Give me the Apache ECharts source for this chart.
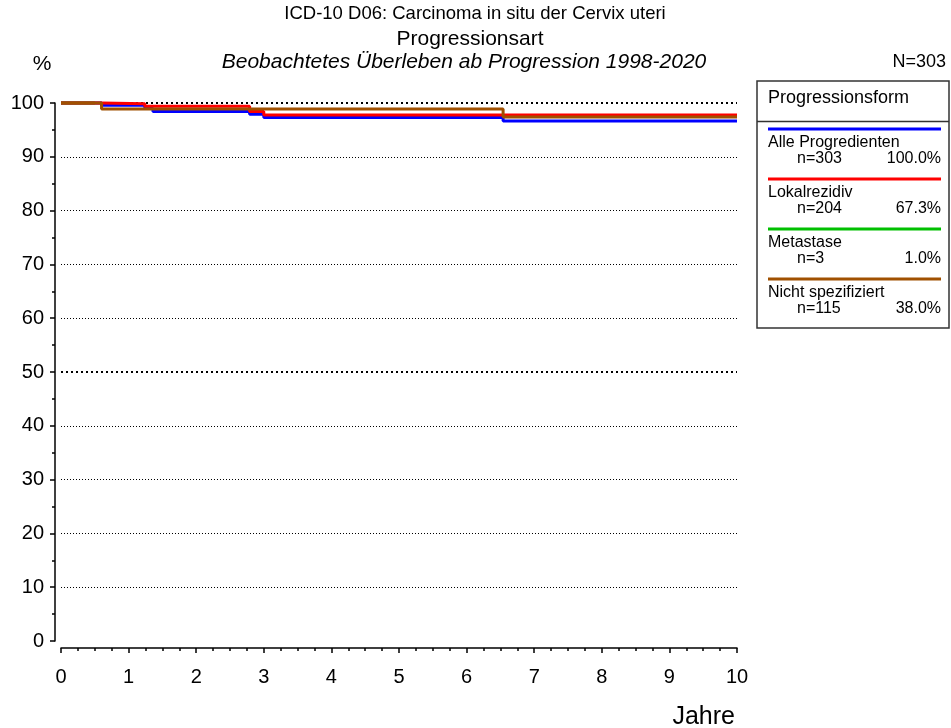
<!DOCTYPE html>
<html>
<head>
<meta charset="utf-8">
<script src="https://cdn.jsdelivr.net/npm/echarts@6/dist/echarts.min.js"></script>
<style>html,body{margin:0;padding:0;background:#fff;}#c{width:951px;height:728px;}</style>
</head>
<body>
<div id="c"></div>
<script>
// ---- data ----
var titleLines = ['ICD-10 D06: Carcinoma in situ der Cervix uteri', 'Progressionsart', 'Beobachtetes Überleben ab Progression 1998-2020'];
var totalN = 'N=303';
var xTicks = [0,1,2,3,4,5,6,7,8,9,10];
var yTicks = [0,10,20,30,40,50,60,70,80,90,100];
var gridThin = [10,20,30,40,60,70,80,90];
var gridBold = [50,100];

var legendTitle = 'Progressionsform';
var groupNames = ['Alle Progredienten','Lokalrezidiv','Metastase','Nicht spezifiziert'];
var groupN = ['n=303','n=204','n=3','n=115'];
var groupPct = ['100.0%','67.3%','1.0%','38.0%'];
var groupColors = ['#0000ff','#ff0000','#00c000','#a05000'];

var alleTimes = [0, 0.6, 1.24, 1.36, 2.79, 3.0, 6.54, 10];
var alleVals  = [100, 99.6, 99.0, 98.4, 97.9, 97.3, 96.65, 96.65];
var lokalTimes = [0, 0.6, 1.24, 2.79, 3.0, 10];
var lokalVals  = [100, 99.85, 99.4, 98.4, 97.75, 97.75];
var metaTimes = [0, 0.5];
var metaVals  = [100, 100];
var nichtTimes = [0, 0.6, 6.54, 10];
var nichtVals  = [100, 98.9, 97.4, 97.4];

function pairs(t, v){ return t.map(function(x,i){ return [x, v[i]]; }); }

var FONT = '"Liberation Sans", Arial, sans-serif';
var chart = echarts.init(document.getElementById('c'), null, {renderer:'canvas'});

var gridLeft = 61, gridTop = 103, gridW = 676, gridH = 538;

var seriesData = [
  {name: groupNames[0], d: pairs(alleTimes, alleVals), c: groupColors[0]},
  {name: groupNames[2], d: pairs(metaTimes, metaVals), c: groupColors[2]},
  {name: groupNames[1], d: pairs(lokalTimes, lokalVals), c: groupColors[1]},
  {name: groupNames[3], d: pairs(nichtTimes, nichtVals), c: groupColors[3]}
];

var series = [{
  type: 'line', data: [], silent: true, clip: false, z: 1,
  markLine: {
    silent: true, z: 1, symbol: ['none','none'], label: {show:false}, animation:false,
    data: gridThin.map(function(v){ return {yAxis: v, lineStyle:{color:'#000', width:1, type:[1,2]}}; })
      .concat(gridBold.map(function(v){ return {yAxis: v, lineStyle:{color:'#000', width:2, type:[2,3]}}; }))
  }
}];
seriesData.forEach(function(s, i){
  series.push({
    type: 'line', name: s.name, data: s.d, step: 'end', showSymbol: false, symbol: 'none',
    clip: false, z: 3 + i, lineStyle: {color: s.c, width: 3}, itemStyle:{color:s.c}
  });
});

var graphics = [];
var titleCfg = [
  {x: 475, y: 14, size: 18.5, style: 'normal'},
  {x: 470, y: 39, size: 21, style: 'normal'},
  {x: 464, y: 62, size: 21, style: 'italic'}
];
titleLines.forEach(function(t, i){
  graphics.push({type:'text', x: titleCfg[i].x, y: titleCfg[i].y, silent:true,
    style:{text:t, fill:'#000', font: titleCfg[i].style + ' ' + titleCfg[i].size + 'px ' + FONT, textAlign:'center', textVerticalAlign:'middle'}});
});
graphics.push({type:'text', x: 42, y: 64, silent:true, style:{text:'%', fill:'#000', font:'21px '+FONT, textAlign:'center', textVerticalAlign:'middle'}});
graphics.push({type:'text', x: 946, y: 62, silent:true, style:{text:totalN, fill:'#000', font:'18px '+FONT, textAlign:'right', textVerticalAlign:'middle'}});
graphics.push({type:'text', x: 735, y: 717, silent:true, style:{text:'Jahre', fill:'#000', font:'25px '+FONT, textAlign:'right', textVerticalAlign:'middle'}});

// legend box
var bx = 757, by = 81, bw = 192, bh = 247;
graphics.push({type:'rect', silent:true, shape:{x:bx, y:by, width:bw, height:bh}, style:{fill:'#fff', stroke:'#333', lineWidth:1.5}, z: 10});
graphics.push({type:'line', silent:true, shape:{x1:bx, y1:121.5, x2:bx+bw, y2:121.5}, style:{stroke:'#333', lineWidth:1.5}, z: 11});
graphics.push({type:'text', x: 768, y: 98.5, silent:true, z: 11, style:{text:legendTitle, fill:'#000', font:'18px '+FONT, textAlign:'left', textVerticalAlign:'middle'}});
groupNames.forEach(function(n, i){
  var ly = 129 + i*50;
  graphics.push({type:'line', silent:true, z:11, shape:{x1:768, y1:ly, x2:941, y2:ly}, style:{stroke:groupColors[i], lineWidth:3}});
  graphics.push({type:'text', x:768, y:ly+14, silent:true, z:11, style:{text:n, fill:'#000', font:'16px '+FONT, textAlign:'left', textVerticalAlign:'middle'}});
  graphics.push({type:'text', x:797, y:ly+29.5, silent:true, z:11, style:{text:groupN[i], fill:'#000', font:'16px '+FONT, textAlign:'left', textVerticalAlign:'middle'}});
  graphics.push({type:'text', x:941, y:ly+29.5, silent:true, z:11, style:{text:groupPct[i], fill:'#000', font:'16px '+FONT, textAlign:'right', textVerticalAlign:'middle'}});
});

var option = {
  animation: false,
  backgroundColor: '#fff',
  grid: {left: gridLeft, top: gridTop, width: gridW, height: gridH, containLabel: false},
  xAxis: {
    type: 'value', min: xTicks[0], max: xTicks[xTicks.length-1], interval: 1, offset: 7,
    axisLine: {show: true, onZero: false, lineStyle: {color:'#000', width:1.5}},
    axisTick: {show: true, length: 5, inside: false, lineStyle:{color:'#000', width:1.5}},
    minorTick: {show: true, splitNumber: 4, length: 3, lineStyle:{color:'#000', width:1.5}},
    splitLine: {show: false},
    axisLabel: {color:'#000', fontSize: 20, fontFamily: FONT, margin: 19}
  },
  yAxis: {
    type: 'value', min: yTicks[0], max: yTicks[yTicks.length-1], interval: 10, offset: 6,
    axisLine: {show: true, onZero: false, lineStyle: {color:'#000', width:1.5}},
    axisTick: {show: true, length: 5, inside: false, lineStyle:{color:'#000', width:1.5}},
    minorTick: {show: true, splitNumber: 2, length: 3, lineStyle:{color:'#000', width:1.5}},
    splitLine: {show: false},
    axisLabel: {color:'#000', fontSize: 20, fontFamily: FONT, margin: 11}
  },
  series: series,
  graphic: {elements: graphics}
};
chart.setOption(option);
</script>
</body>
</html>
